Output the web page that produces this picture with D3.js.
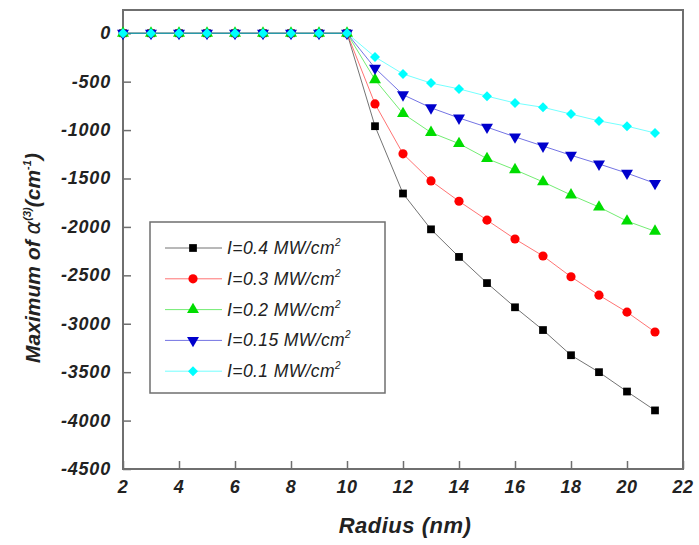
<!DOCTYPE html>
<html>
<head>
<meta charset="utf-8">
<script src="https://cdn.jsdelivr.net/npm/d3@7"></script>
<style>
  body { margin: 0; background: #fff; }
  text { font-family: "Liberation Sans", Arial, sans-serif; }
</style>
</head>
<body>
<svg id="chart" width="699" height="545"></svg>
<script>
// radius values (nm)
var radius = d3.range(2, 22);   // 2..21
var flat = [0, 0, 0, 0, 0, 0, 0, 0, 0];   // r = 2..10
var s04  = flat.concat([-960, -1655, -2025, -2310, -2580, -2830, -3065, -3325, -3500, -3700, -3895]);
var s03  = flat.concat([-730, -1245, -1525, -1735, -1930, -2125, -2300, -2515, -2705, -2880, -3085]);
var s02  = flat.concat([-480, -830, -1025, -1140, -1295, -1410, -1535, -1670, -1795, -1940, -2045]);
var s015 = flat.concat([-360, -635, -770, -875, -970, -1070, -1165, -1260, -1350, -1445, -1550]);
var s01  = flat.concat([-245, -420, -515, -575, -650, -720, -765, -835, -905, -960, -1030]);
var labels = ["0.4", "0.3", "0.2", "0.15", "0.1"];
var xTicks = d3.range(2, 23, 2);
var yTicks = d3.range(0, -4501, -500);

var series = [
  { name: labels[0], vals: s04,  color: "#000000", sym: d3.symbolSquare,   size: 60, rot: 0 },
  { name: labels[1], vals: s03,  color: "#ff0000", sym: d3.symbolCircle,   size: 66, rot: 0 },
  { name: labels[2], vals: s02,  color: "#00dd00", sym: d3.symbolTriangle, size: 62, rot: 0 },
  { name: labels[3], vals: s015, color: "#0000cc", sym: d3.symbolTriangle, size: 62, rot: 180 },
  { name: labels[4], vals: s01,  color: "#00ffff", sym: d3.symbolSquare,   size: 50, rot: 45 }
];

var svg = d3.select("#chart");
var L = 123, R = 683, T = 10, B = 469;
var x = d3.scaleLinear().domain([2, 22]).range([L, R]);
var y = d3.scaleLinear().domain([-4500, 240]).range([B, T]);

var frame = "#6f6f6f";

// frame
svg.append("rect").attr("x", L).attr("y", T).attr("width", R - L).attr("height", B - T)
  .attr("fill", "none").attr("stroke", frame).attr("stroke-width", 2);

// x axis ticks (inward)
var xg = svg.append("g").attr("transform", "translate(0," + B + ")");
xg.call(d3.axisBottom(x).tickValues(d3.range(3, 22, 1)).tickSize(-4).tickFormat(""));
xg.call(d3.axisBottom(x).tickValues(xTicks).tickSize(-8).tickFormat(""));
xg.selectAll(".domain").remove();
xg.selectAll("line").attr("stroke", frame).attr("stroke-width", 1.5);
xg.selectAll(".lbl").data(xTicks).enter().append("text")
  .attr("x", d => x(d)).attr("y", 24)
  .attr("text-anchor", "middle").attr("font-size", 18).attr("font-weight", "bold")
  .attr("font-style", "italic").attr("letter-spacing", 0.5).attr("fill", "#222").text(d => d);

// y axis ticks (inward)
var yg = svg.append("g").attr("transform", "translate(" + L + ",0)");
yg.call(d3.axisLeft(y).tickValues(d3.range(-4250, 1, 500)).tickSize(-4).tickFormat(""));
yg.call(d3.axisLeft(y).tickValues(yTicks).tickSize(-8).tickFormat(""));
yg.selectAll(".domain").remove();
yg.selectAll("line").attr("stroke", frame).attr("stroke-width", 1.5);
yg.selectAll(".lbl").data(yTicks).enter().append("text")
  .attr("x", -12).attr("y", d => y(d) + 6)
  .attr("text-anchor", "end").attr("font-size", 18).attr("font-weight", "bold")
  .attr("font-style", "italic").attr("letter-spacing", 0.8).attr("fill", "#222").text(d => d);

// axis titles
svg.append("text").attr("x", 405).attr("y", 533).attr("text-anchor", "middle")
  .attr("font-size", 22).attr("font-weight", "bold").attr("font-style", "italic")
  .attr("letter-spacing", 0.5).attr("fill", "#222").text("Radius (nm)");

var yt = svg.append("text").attr("transform", "translate(40," + 258 + ") rotate(-90)")
  .attr("text-anchor", "middle").attr("font-size", 21).attr("font-weight", "bold")
  .attr("font-style", "italic").attr("fill", "#222");
yt.append("tspan").text("Maximum of ");
yt.append("tspan").attr("font-family", "DejaVu Sans").attr("font-weight", "normal").text("α");
yt.append("tspan").attr("dy", -9).attr("font-size", 11).text("(3)");
yt.append("tspan").attr("dy", 9).text("(cm");
yt.append("tspan").attr("dy", -9).attr("font-size", 11).text("-1");
yt.append("tspan").attr("dy", 9).text(")");

// series lines and markers
var line = d3.line().x((d, i) => x(radius[i])).y(d => y(d));
series.forEach(function (s) {
  svg.append("path").datum(s.vals).attr("d", line)
    .attr("fill", "none").attr("stroke", s.color).attr("stroke-width", 1).attr("opacity", 0.55);
});
series.forEach(function (s) {
  svg.append("g").selectAll("path").data(s.vals).enter().append("path")
    .attr("d", d3.symbol().type(s.sym).size(s.size))
    .attr("transform", (d, i) => "translate(" + x(radius[i]) + "," + y(d) + ") rotate(" + s.rot + ")")
    .attr("fill", s.color);
});

// legend
var lg = svg.append("g");
lg.append("rect").attr("x", 150).attr("y", 222).attr("width", 235).attr("height", 171)
  .attr("fill", "#fff").attr("stroke", frame).attr("stroke-width", 1.5);
series.forEach(function (s, i) {
  var yy = 248 + i * 30.8;
  lg.append("line").attr("x1", 165).attr("x2", 222).attr("y1", yy).attr("y2", yy)
    .attr("stroke", s.color).attr("stroke-width", 1).attr("opacity", 0.55);
  lg.append("path").attr("d", d3.symbol().type(s.sym).size(s.size))
    .attr("transform", "translate(193," + yy + ") rotate(" + s.rot + ")").attr("fill", s.color);
  var t = lg.append("text").attr("x", 227).attr("y", yy + 6).attr("font-size", 17.5)
    .attr("font-style", "italic").attr("letter-spacing", 0.4).attr("fill", "#222");
  t.append("tspan").text("I=" + s.name + " MW/cm");
  t.append("tspan").attr("dy", -8).attr("font-size", 10).text("2");
});
</script>
</body>
</html>
